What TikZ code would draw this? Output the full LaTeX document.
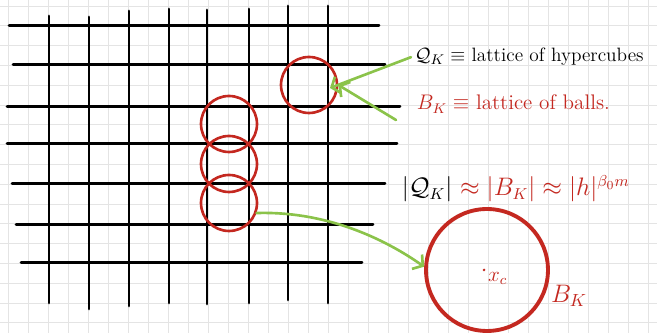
\documentclass[tikz,border=0pt]{standalone}
\usepackage{amsmath}
\usepackage{amssymb}
\usepackage{xcolor}
\usepackage{tikz}
\usetikzlibrary{arrows.meta, positioning}

\definecolor{penred}{RGB}{196,40,32}
\definecolor{pengreen}{RGB}{139,195,74}
\definecolor{paperline}{RGB}{228,228,228}

\begin{document}
\begin{tikzpicture}[
    x=0.02cm, y=-0.02cm,
    font=\fontsize{12}{14}\selectfont,
    % Squared paper and lattice styling
    paper/.style={draw=paperline, line width=0.5pt},
    lattice/.style={draw=black, line width=1.7pt, line cap=round},
    % Ball styling
    ball/.style={circle, draw=penred, line width=1.5pt, minimum size=1.12cm, inner sep=0pt},
    bigball/.style={circle, draw=penred, line width=2.2pt, minimum size=2.44cm, inner sep=0pt},
    % Text styling
    note/.style={anchor=base west, inner sep=2pt},
    % Arrow styling
    arrow/.style={-{Straight Barb[length=4pt, width=10pt]}, draw=pengreen, line width=1.5pt, line cap=round}
]

% ---------------------------------------------------
% 0. PAPER (squared background, fixes the frame)
% ---------------------------------------------------
\fill[white] (0,0) rectangle (657,333);
\useasboundingbox (0,0) rectangle (657,333);
\foreach \gx in {8,28,...,648}
    \draw[paper] (\gx,0) -- (\gx,333);
\foreach \gy in {6,25.8,...,330}
    \draw[paper] (0,\gy) -- (657,\gy);

% ---------------------------------------------------
% 1. LATTICE (hand drawn, so every line has its own ends)
% ---------------------------------------------------
\foreach \ly/\lx/\rx in {26/9/379, 65/13/385, 107/7/400, 144/7/397, 184/12/385, 225/16/373, 263/21/362}
    \draw[lattice] (\lx,\ly) -- (\rx,\ly);
\foreach \vx/\vt/\vb in {49/16/303, 89/17/309, 129/11/306, 169/9/303, 207/10/304, 249/9/303, 288/6/300, 328/6/303}
    \draw[lattice] (\vx,\vt) -- (\vx,\vb);

% ---------------------------------------------------
% 2. NODES
% ---------------------------------------------------

% Balls on the lattice
\node[ball] (ballR) at (309,85) {};
\node[ball] (ballA) at (229,124) {};
\node[ball] (ballB) at (229,164) {};
\node[ball] (ballC) at (229,203) {};
\coordinate (cell) at (330,88);

% Legend
\node[note, font=\fontsize{11}{13}\selectfont] (hyper) at (411,62) {$\mathcal{Q}_K \equiv$ lattice of hypercubes};
\node[note, text=penred] (balls) at (413,110) {$B_K \equiv$ lattice of balls.};
\node[note, font=\fontsize{13.5}{16}\selectfont] (sizes) at (398,196) {$|\mathcal{Q}_K|$ {\color{penred}$\approx |B_K| \approx |h|^{\beta_0 m}$}};

% Single ball
\node[bigball] (bigball) at (487,270) {};
\node[circle, fill=penred, inner sep=0.6pt] (xc) at (484,270) {};
\node[text=penred, anchor=north west, inner sep=1pt] (xclabel) at (486,270) {$x_c$};
\node[text=penred, font=\fontsize{14}{16}\selectfont] (bklabel) at (569,296) {$B_K$};

% ---------------------------------------------------
% 3. CONNECTIONS
% ---------------------------------------------------
\draw[arrow] (hyper.west) -- (cell);
\draw[arrow] ([shift={(-17,10)}]balls.base west) -- (ballR.east);
\draw[arrow] (ballC.-20) .. controls +(70,-2) and +(-40,-28) .. (bigball.177);

\end{tikzpicture}
\end{document}
